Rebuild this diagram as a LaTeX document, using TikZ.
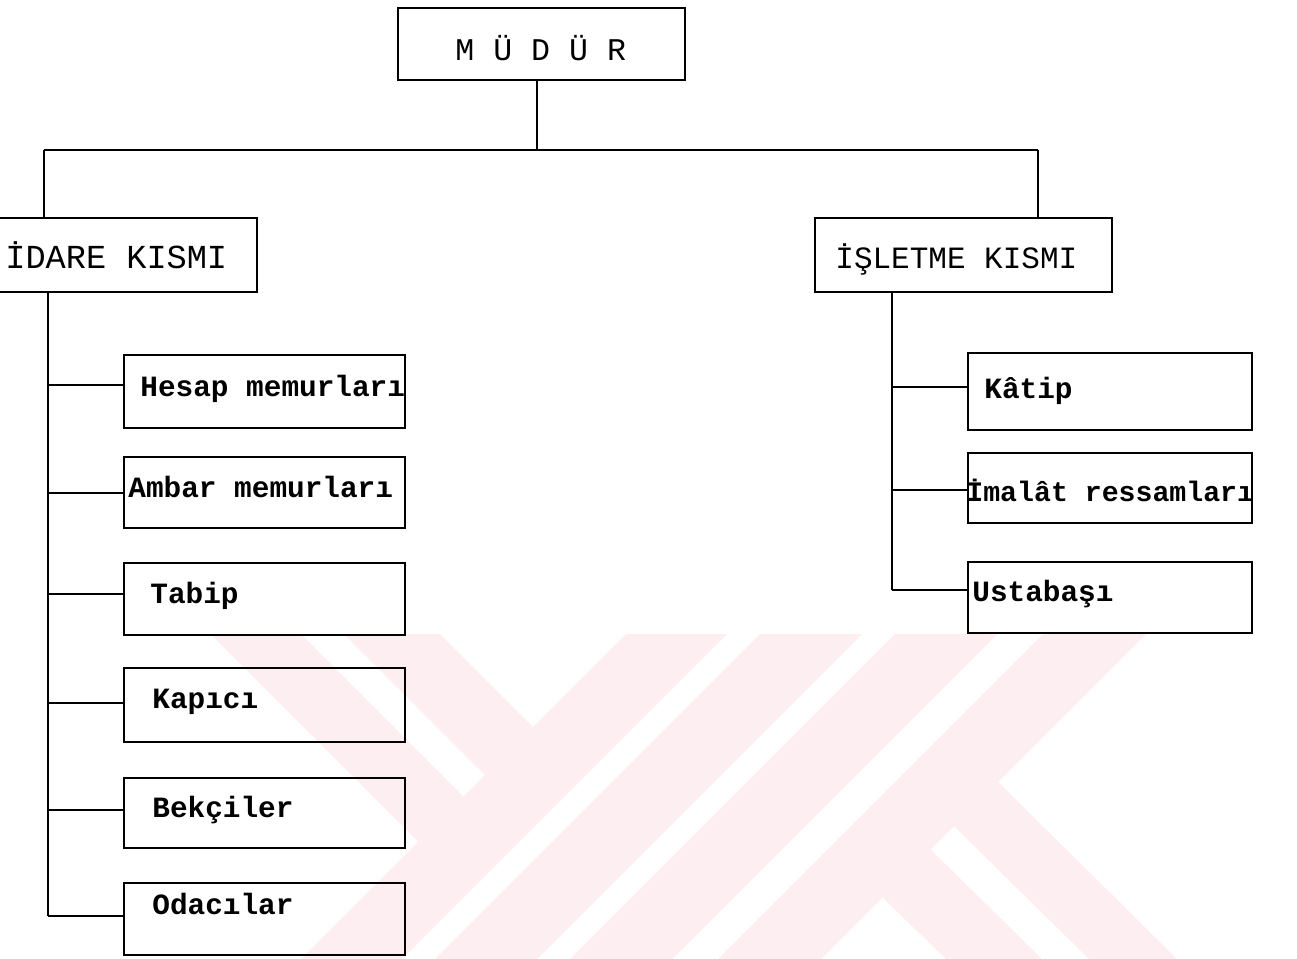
\documentclass[tikz,border=0pt]{standalone}
\usepackage{fontspec}
\setmonofont{Liberation Mono}
\definecolor{wm}{RGB}{253,238,241}
\begin{document}
\begin{tikzpicture}[x=0.5pt,y=-0.5pt,
  box/.style={draw, rectangle, line width=1.3pt, inner sep=0pt},
  txt/.style={font=\ttfamily\bfseries\fontsize{14.7}{16}\selectfont, inner sep=0pt, anchor=base west},
  head/.style={font=\ttfamily\fontsize{15.5}{17}\selectfont, inner sep=0pt, anchor=base west},
  conn/.style={line width=1.2pt}]
\useasboundingbox (0,0) rectangle (1297,959);
\fill[white] (0,0) rectangle (1297,959);
% watermark
\begin{scope}
\clip (0,634) rectangle (1297,959);
\fill[wm] (211,634) -- (301,634) -- (464.5,797.5) -- (419.5,842.5) -- cycle;
\fill[wm] (344,634) -- (440,634) -- (533,727) -- (485,775) -- cycle;
\fill[wm] (626,634) -- (727,634) -- (402,959) -- (301,959) -- cycle;
\fill[wm] (760,634) -- (862,634) -- (537,959) -- (435,959) -- cycle;
\fill[wm] (895,634) -- (997,634) -- (672,959) -- (570,959) -- cycle;
\fill[wm] (1043,634) -- (1146,634) -- (821,959) -- (718,959) -- cycle;
\fill[wm] (882.5,897.5) -- (930.5,849.5) -- (1042,959) -- (946,959) -- cycle;
\fill[wm] (954,826) -- (998,782) -- (1177,959) -- (1089,959) -- cycle;
\end{scope}
% top boxes
\node[box, minimum width=143.5pt, minimum height=36pt] (mudur) at (541.5,44) {};
\node[head, font=\ttfamily\fontsize{15.8}{17}\selectfont] (mudurT) at (455,60) {M Ü D Ü R};
\node[box, minimum width=133.5pt, minimum height=37pt] (idare) at (123.5,255) {};
\node[head, font=\ttfamily\fontsize{16.8}{18}\selectfont] (idareT) at (5,268) {İDARE KISMI};
\node[box, minimum width=148.5pt, minimum height=37pt] (isletme) at (963.5,255) {};
\node[head] (isletmeT) at (835,268) {İŞLETME KISMI};
% top connectors
\coordinate (m) at (537,150);
\coordinate (hl) at (44,150);
\coordinate (hr) at (1038,150);
\draw[conn] (m |- mudur.south) -- (m);
\draw[conn] (hl) -- (hr);
\draw[conn] (hl) -- (hl |- idare.north);
\draw[conn] (hr) -- (hr |- isletme.north);
% left children
\node[box, minimum width=140.5pt, minimum height=36.5pt] (hesap) at (264.5,391.5) {};
\node[txt] (hesapT) at (140,396) {Hesap memurları};
\node[box, minimum width=140.5pt, minimum height=35.5pt] (ambar) at (264.5,492.5) {};
\node[txt] (ambarT) at (128,497) {Ambar memurları};
\node[box, minimum width=140.5pt, minimum height=36pt] (tabip) at (264.5,599) {};
\node[txt] (tabipT) at (150,603) {Tabip};
\node[box, minimum width=140.5pt, minimum height=37pt] (kapici) at (264.5,705) {};
\node[txt] (kapiciT) at (152,708) {Kapıcı};
\node[box, minimum width=140.5pt, minimum height=35pt] (bekci) at (264.5,813) {};
\node[txt] (bekciT) at (152,817) {Bekçiler};
\node[box, minimum width=140.5pt, minimum height=36pt] (odaci) at (264.5,919) {};
\node[txt] (odaciT) at (152,914) {Odacılar};
\coordinate (lb) at (48,916);
\draw[conn] (lb |- idare.south) -- (lb);
\coordinate (l1) at (48,385);
\coordinate (l2) at (48,493);
\coordinate (l3) at (48,594);
\coordinate (l4) at (48,703);
\coordinate (l5) at (48,810);
\draw[conn] (l1) -- (l1 -| hesap.west);
\draw[conn] (l2) -- (l2 -| ambar.west);
\draw[conn] (l3) -- (l3 -| tabip.west);
\draw[conn] (l4) -- (l4 -| kapici.west);
\draw[conn] (l5) -- (l5 -| bekci.west);
\draw[conn] (lb) -- (lb -| odaci.west);
% right children
\node[box, minimum width=142pt, minimum height=38.5pt] (katip) at (1110,391.5) {};
\node[txt] (katipT) at (984,398) {Kâtip};
\node[box, minimum width=142pt, minimum height=35pt] (imalat) at (1110,488) {};
\node[txt, font=\ttfamily\bfseries\fontsize{14.1}{16}\selectfont] (imalatT) at (966,501) {İmalât ressamları};
\node[box, minimum width=142pt, minimum height=35.5pt] (usta) at (1110,597.5) {};
\node[txt] (ustaT) at (972,601) {Ustabaşı};
\coordinate (rb) at (892,590);
\draw[conn] (rb |- isletme.south) -- (rb);
\coordinate (r1) at (892,387);
\coordinate (r2) at (892,490);
\draw[conn] (r1) -- (r1 -| katip.west);
\draw[conn] (r2) -- (r2 -| imalat.west);
\draw[conn] (rb) -- (rb -| usta.west);
\end{tikzpicture}
\end{document}
